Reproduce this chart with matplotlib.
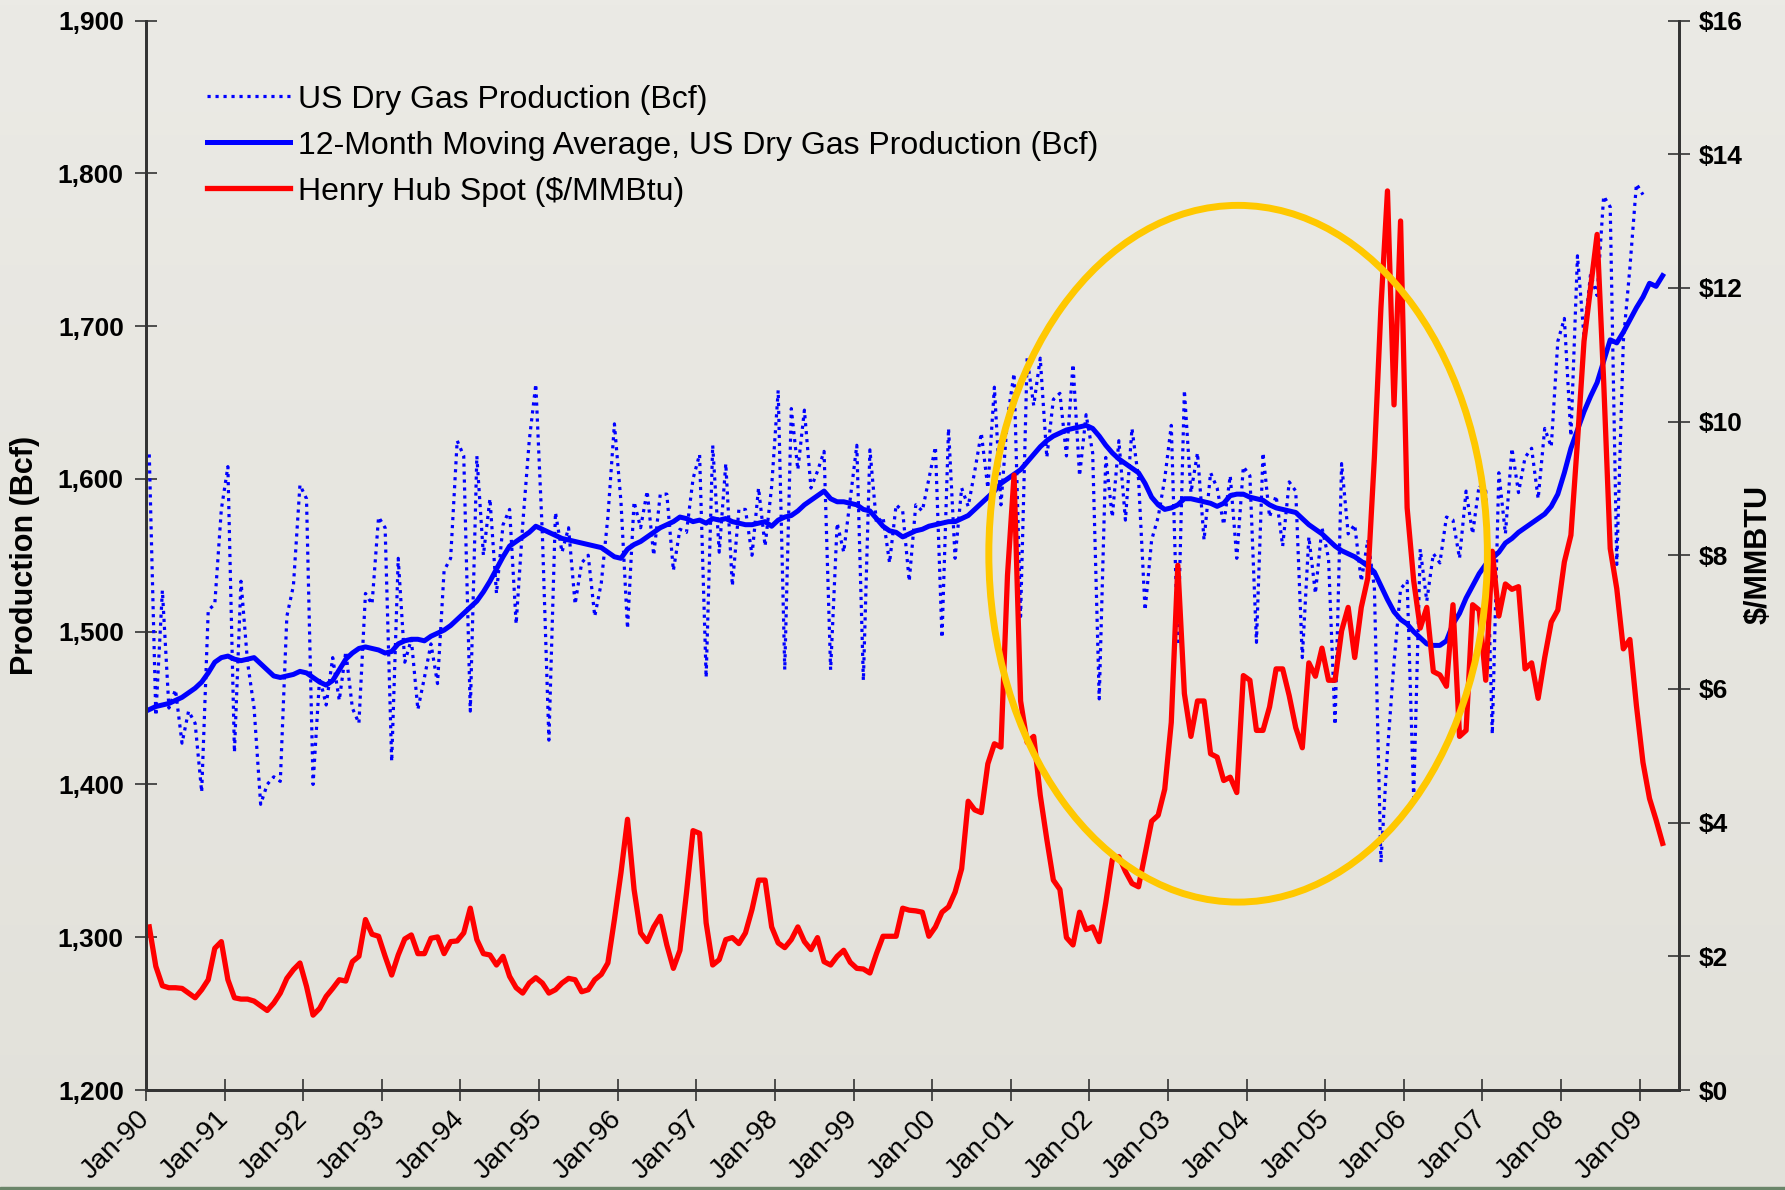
import numpy as np
import matplotlib.pyplot as plt
from matplotlib.patches import Ellipse, Rectangle
from matplotlib.colors import LinearSegmentedColormap

plt.rcParams['font.family'] = ['Liberation Sans', 'DejaVu Sans']

# x axis labels, one per January 1990..2009
years = list(range(1990, 2010))
tick_labels = ['Jan-%02d' % (y % 100) for y in years]

# monthly US dry gas production (Bcf), Jan-90 .. Jan-09
dry_gas = [
    1616, 1445, 1527, 1450, 1462, 1427, 1448, 1440, 1395, 1514, 1518, 1580,
    1608, 1421, 1533, 1480, 1450, 1387, 1400, 1405, 1402, 1510, 1530, 1596,
    1587, 1400, 1470, 1452, 1483, 1455, 1487, 1450, 1440, 1525, 1518, 1575,
    1568, 1415, 1548, 1480, 1495, 1449, 1470, 1492, 1466, 1540, 1548, 1625,
    1615, 1448, 1615, 1550, 1587, 1525, 1570, 1580, 1505, 1570, 1625, 1662,
    1564, 1429, 1578, 1552, 1568, 1518, 1545, 1550, 1510, 1532, 1575, 1636,
    1585, 1502, 1585, 1568, 1592, 1550, 1590, 1590, 1540, 1567, 1565, 1600,
    1616, 1470, 1622, 1552, 1610, 1530, 1580, 1580, 1550, 1594, 1556, 1595,
    1658, 1475, 1646, 1606, 1645, 1594, 1605, 1618, 1475, 1571, 1552, 1587,
    1622, 1468, 1619, 1571, 1575, 1545, 1583, 1579, 1533, 1583, 1579, 1600,
    1621, 1496, 1633, 1548, 1594, 1582, 1605, 1630, 1594, 1660, 1583, 1640,
    1669, 1510, 1679, 1648, 1679, 1614, 1652, 1656, 1615, 1675, 1602, 1642,
    1617, 1456, 1614, 1575, 1625, 1573, 1633, 1600, 1514, 1560, 1575, 1600,
    1635, 1491, 1658, 1591, 1617, 1560, 1604, 1594, 1570, 1602, 1548, 1608,
    1602, 1493, 1617, 1575, 1589, 1556, 1598, 1592, 1483, 1562, 1525, 1568,
    1548, 1439, 1610, 1564, 1570, 1533, 1560, 1529, 1349, 1422, 1480, 1528,
    1533, 1391, 1554, 1520, 1551, 1545, 1575, 1573, 1548, 1592, 1564, 1596,
    1592, 1433, 1604, 1564, 1620, 1591, 1614, 1620, 1587, 1633, 1621, 1690,
    1705, 1628, 1746, 1693, 1734, 1720, 1785, 1778, 1544, 1690, 1738, 1793,
    1786,
]

# 12-month moving average (Bcf), Jan-90 .. Apr-09
ma_12 = [
    1449, 1451, 1452, 1453, 1455, 1457, 1460, 1463, 1467, 1473, 1480, 1483,
    1484, 1482, 1481, 1482, 1483, 1479, 1475, 1471, 1470, 1471, 1472, 1474,
    1473, 1470, 1467, 1465, 1468, 1475, 1482, 1486, 1489, 1490, 1489, 1488,
    1486, 1487, 1492, 1494, 1495, 1495, 1494, 1497, 1499, 1501, 1504, 1508,
    1512, 1516, 1520, 1526, 1533, 1541, 1549, 1556, 1559, 1562, 1565, 1569,
    1567, 1565, 1563, 1561, 1560, 1559, 1558, 1557, 1556, 1555, 1552, 1549,
    1548, 1554, 1557, 1559, 1562, 1565, 1568, 1570, 1572, 1575, 1574, 1572,
    1573, 1571, 1574, 1573, 1574, 1572, 1571, 1570, 1570, 1571, 1572, 1569,
    1573, 1575, 1576, 1579, 1583, 1586, 1589, 1592, 1587, 1585, 1585, 1584,
    1583, 1580, 1579, 1574, 1569, 1566, 1565, 1562, 1564, 1566, 1567, 1569,
    1570, 1571, 1572, 1572, 1574, 1576, 1580, 1584, 1588, 1592, 1597, 1600,
    1603, 1606, 1611, 1616, 1621, 1625, 1628, 1630, 1632, 1633, 1634, 1635,
    1633, 1628, 1622, 1617, 1613, 1610, 1607, 1604, 1597, 1588, 1583, 1580,
    1581, 1583, 1587, 1587, 1586, 1585, 1584, 1582, 1584, 1589, 1590, 1590,
    1588, 1587, 1586, 1583, 1581, 1580, 1579, 1578, 1574, 1570, 1567, 1564,
    1560, 1556, 1553, 1551, 1549, 1546, 1543, 1539, 1530, 1521, 1513, 1508,
    1505, 1500, 1496, 1492, 1491, 1491, 1494, 1505, 1512, 1522, 1530, 1538,
    1544, 1548, 1552, 1558, 1561, 1565, 1568, 1571, 1574, 1577, 1582, 1590,
    1604, 1620, 1632, 1644, 1654, 1663, 1677, 1691, 1689, 1696, 1704, 1712,
    1719, 1728, 1726, 1733,
]

# Henry Hub spot ($/MMBtu), Jan-90 .. Apr-09
henry_hub = [
    2.44, 1.85, 1.56, 1.53, 1.53, 1.52, 1.45, 1.38, 1.50, 1.65, 2.12, 2.22,
    1.65, 1.38, 1.36, 1.36, 1.33, 1.26, 1.19, 1.30, 1.45, 1.67, 1.80, 1.90,
    1.55, 1.12, 1.22, 1.40, 1.52, 1.65, 1.63, 1.92, 2.00, 2.55, 2.33, 2.30,
    2.00, 1.72, 2.02, 2.26, 2.32, 2.04, 2.04, 2.27, 2.29, 2.04, 2.22, 2.23,
    2.35, 2.72, 2.25, 2.04, 2.02, 1.87, 2.00, 1.70, 1.53, 1.45, 1.60, 1.68,
    1.60, 1.45, 1.50, 1.60, 1.67, 1.65, 1.47, 1.50, 1.65, 1.73, 1.90, 2.55,
    3.25, 4.05, 3.00, 2.35, 2.22, 2.44, 2.60, 2.17, 1.82, 2.09, 2.95, 3.88,
    3.84, 2.50, 1.87, 1.95, 2.25, 2.28, 2.19, 2.35, 2.70, 3.14, 3.14, 2.44,
    2.20, 2.13, 2.25, 2.44, 2.22, 2.10, 2.28, 1.92, 1.87, 2.00, 2.09, 1.91,
    1.82, 1.81, 1.75, 2.04, 2.30, 2.30, 2.30, 2.72, 2.69, 2.68, 2.66, 2.30,
    2.44, 2.66, 2.74, 2.96, 3.31, 4.32, 4.19, 4.15, 4.88, 5.18, 5.13, 7.70,
    9.20, 5.82, 5.20, 5.29, 4.41, 3.75, 3.14, 3.00, 2.28, 2.17, 2.66, 2.40,
    2.44, 2.22, 2.80, 3.45, 3.49, 3.27, 3.09, 3.04, 3.53, 4.02, 4.11, 4.50,
    5.50, 7.85, 5.93, 5.29, 5.82, 5.82, 5.03, 4.98, 4.63, 4.68, 4.45, 6.20,
    6.13, 5.38, 5.38, 5.73, 6.30, 6.30, 5.90, 5.42, 5.12, 6.39, 6.19, 6.61,
    6.13, 6.13, 6.87, 7.22, 6.47, 7.22, 7.66, 9.46, 11.70, 13.45, 10.25, 13.00,
    8.71, 7.62, 6.91, 7.22, 6.26, 6.21, 6.04, 7.26, 5.29, 5.38, 7.26, 7.18,
    6.13, 8.06, 7.09, 7.57, 7.49, 7.53, 6.30, 6.39, 5.86, 6.47, 7.00, 7.18,
    7.90, 8.30, 9.70, 11.20, 12.00, 12.80, 10.60, 8.10, 7.50, 6.60, 6.74, 5.75,
    4.90, 4.36, 4.04, 3.69,
]

# month index, points sit in the middle of each month
x_gas = np.arange(len(dry_gas)) + 0.5
x_ma = np.arange(len(ma_12)) + 0.5
x_hh = np.arange(len(henry_hub)) + 0.5

fig = plt.figure(figsize=(17.85, 11.9), dpi=100)

# light grey background with a faint vertical gradient
bg = fig.add_axes([0, 0, 1, 1], zorder=-10)
grad = np.linspace(0, 1, 256).reshape(-1, 1)
bg.imshow(grad, aspect='auto', extent=[0, 1, 0, 1], origin='upper',
          cmap=LinearSegmentedColormap.from_list('bg', ['#EBEAE5', '#E2E1DA']))
bg.axis('off')
fig.add_artist(Rectangle((0, 0), 1, 3 / 1190, transform=fig.transFigure,
                         color='#6A8569', zorder=10))

ax = fig.add_axes([0.08179, 0.08403, 0.85883, 0.89874])
ax.patch.set_alpha(0)
ax2 = ax.twinx()

l1, = ax.plot(x_gas, dry_gas, color='#0000FF', lw=2.3, ls=(0, (1, 1.5)),
              label='US Dry Gas Production (Bcf)')
l2, = ax.plot(x_ma, ma_12, color='#0000FF', lw=3.6,
              label='12-Month Moving Average, US Dry Gas Production (Bcf)')
l3, = ax2.plot(x_hh, henry_hub, color='#FF0000', lw=3.8,
               label='Henry Hub Spot ($/MMBtu)')

ax.set_xlim(0, 234)
ax.set_ylim(1200, 1900)
ax2.set_ylim(0, 16)

# yellow highlight ring
ring = Ellipse((166.7, 1551), 76.1, 456, transform=ax.transData,
               fill=False, edgecolor='#FFC800', lw=5, zorder=6)
ax2.add_patch(ring)

ax.set_yticks(np.arange(1200, 1901, 100))
ax.set_yticklabels([f'{v:,}' for v in range(1200, 1901, 100)],
                   fontweight='bold', fontsize=19)
ax2.set_yticks(np.arange(0, 17, 2))
ax2.set_yticklabels([f'${v}' for v in range(0, 17, 2)],
                    fontweight='bold', fontsize=19)
ax.set_xticks(np.arange(0, 229, 12))
ax.set_xticklabels(tick_labels, rotation=45, ha='right', va='center',
                   rotation_mode='anchor', fontsize=20)

ax.tick_params(axis='y', direction='inout', length=16, width=1.2, pad=8,
               color='#333333')
ax2.tick_params(axis='y', direction='inout', length=16, width=1.2, pad=6,
                color='#333333')
ax.tick_params(axis='x', direction='inout', length=16, width=1.2, pad=10,
               color='#333333')

for a in (ax, ax2):
    a.spines['top'].set_visible(False)
    for s in ('left', 'right', 'bottom'):
        a.spines[s].set_color('#333333')
        a.spines[s].set_linewidth(2)

fig.text(25 / 1785, 1 - 555 / 1190, 'Production (Bcf)', rotation=90,
         ha='center', va='center', fontsize=22, fontweight='bold')
fig.text(1759 / 1785, 1 - 554 / 1190, '$/MMBTU', rotation=90,
         ha='center', va='center', fontsize=22, fontweight='bold')

leg = ax2.legend([l1, l2, l3], [l1.get_label(), l2.get_label(), l3.get_label()],
                 loc='upper left', bbox_to_anchor=(0.04, 0.94), frameon=False,
                 fontsize=23, handlelength=2.6, handletextpad=0.25,
                 labelspacing=0.5, borderaxespad=0, borderpad=0)
leg.set_zorder(10)

fig.savefig('out.png', dpi=100)
